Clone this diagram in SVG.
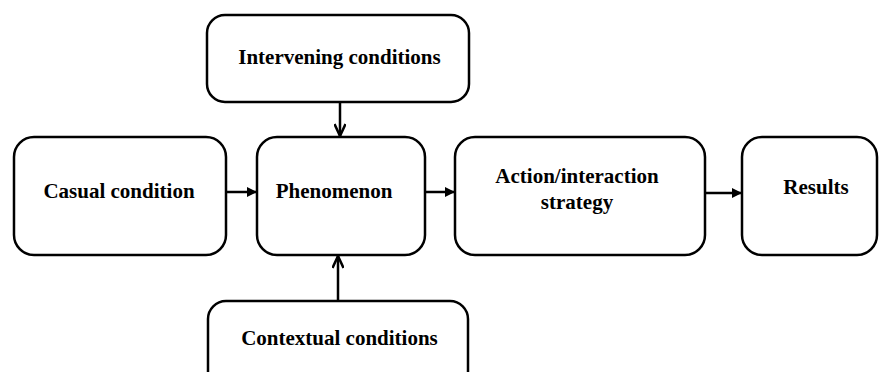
<svg xmlns="http://www.w3.org/2000/svg" width="879" height="372" viewBox="0 0 879 372">
<style>
.box{fill:#fff;stroke:#000;stroke-width:2.5}
.t{font-family:"Liberation Serif","Times New Roman",serif;font-weight:bold;font-size:21px;fill:#000;text-anchor:middle}
.c{stroke:#000;stroke-width:2.5;fill:none}
</style>
<defs>
<marker id="fill" markerWidth="10" markerHeight="10" refX="9" refY="5" orient="auto" markerUnits="userSpaceOnUse">
<path d="M0,0 L10,5 L0,10 Z" fill="#000"/>
</marker>
<marker id="open" markerWidth="16" markerHeight="12" refX="14" refY="6" orient="auto" markerUnits="userSpaceOnUse">
<path d="M2,0.5 L14,6 L2,11.5" fill="none" stroke="#000" stroke-width="2.5"/>
</marker>
</defs>
<g id="connectors">
<line class="c" x1="226" y1="192" x2="256" y2="192" marker-end="url(#fill)"/>
<line class="c" x1="425" y1="192" x2="454" y2="192" marker-end="url(#fill)"/>
<line class="c" x1="705" y1="193" x2="741" y2="193" marker-end="url(#fill)"/>
<line class="c" x1="340" y1="102" x2="340" y2="136" marker-end="url(#open)"/>
<line class="c" x1="338" y1="301" x2="338" y2="256" marker-end="url(#open)"/>
</g>
<g id="casual">
<rect class="box" x="14" y="137" width="212" height="118" rx="20"/>
<text class="t" x="119" y="198">Casual condition</text>
</g>
<g id="phenomenon">
<rect class="box" x="257" y="137" width="168" height="118" rx="20"/>
<text class="t" x="334" y="198">Phenomenon</text>
</g>
<g id="action">
<rect class="box" x="455" y="137" width="250" height="118" rx="20"/>
<text class="t" x="577" y="183">Action/interaction</text>
<text class="t" x="577" y="209">strategy</text>
</g>
<g id="results">
<rect class="box" x="742" y="137" width="135" height="118" rx="20"/>
<text class="t" x="816" y="194">Results</text>
</g>
<g id="intervening">
<rect class="box" x="207" y="15" width="262" height="87" rx="18"/>
<text class="t" x="339.5" y="64">Intervening conditions</text>
</g>
<g id="contextual">
<rect class="box" x="208" y="301" width="260" height="90" rx="18"/>
<text class="t" x="339.5" y="345">Contextual conditions</text>
</g>
</svg>
